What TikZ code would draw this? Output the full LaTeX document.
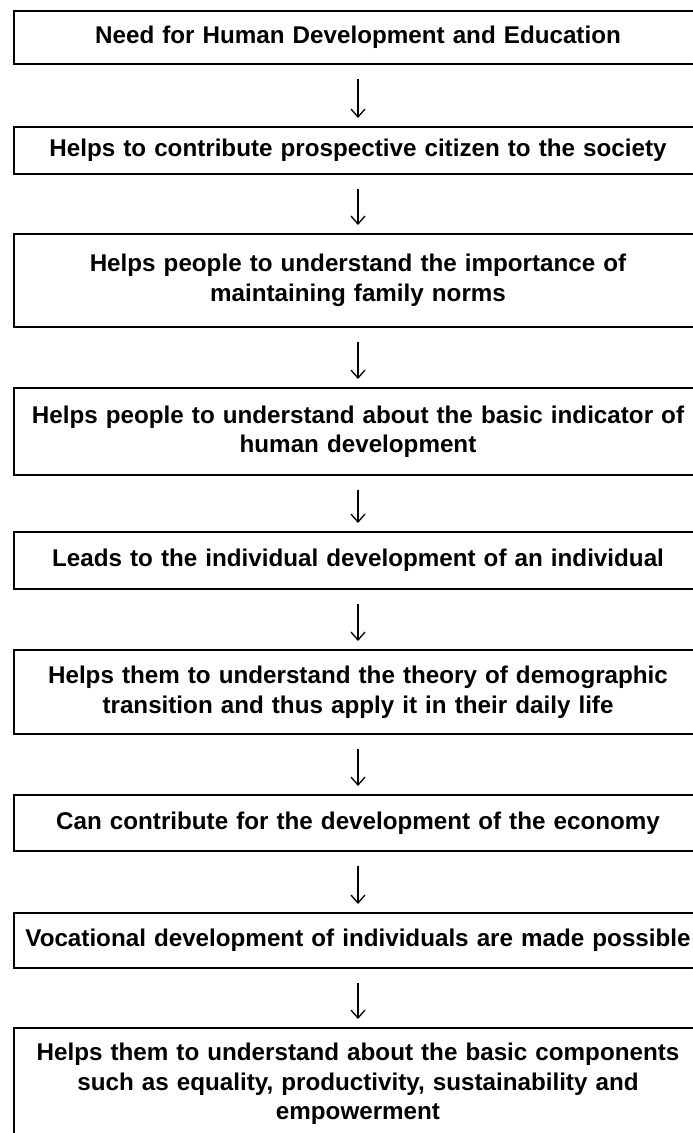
\documentclass[tikz,border=0pt]{standalone}
\usepackage{fontspec}
\setmainfont{Liberation Sans}
\usetikzlibrary{arrows.meta}
\tikzset{
  flowbox/.style={draw=black, line width=1.7pt, rectangle, minimum width=688pt,
    inner sep=0pt, outer sep=0pt, text width=670pt, align=center,
    font=\fontsize{24.2}{29.5}\selectfont\bfseries},
  flowarrow/.style={line width=1.3pt, -{Straight Barb[length=8pt,width=14pt]},
    shorten <=15pt, shorten >=9pt}
}
\begin{document}
\begin{tikzpicture}[x=1pt,y=-1pt]
\useasboundingbox (0,0) rectangle (693,1133);
\node[flowbox, minimum height=53pt] (b1) at (358,37.5) {Need for Human Development and Education};
\node[flowbox, minimum height=47pt] (b2) at (358,150.5) {Helps to contribute prospective citizen to the society};
\node[flowbox, minimum height=93pt] (b3) at (358,280.5) {Helps people to understand the importance of\\maintaining family norms};
\node[flowbox, minimum height=87pt] (b4) at (358,431.5) {Helps people to understand about the basic indicator of\\human development};
\node[flowbox, minimum height=57pt] (b5) at (358,560.5) {Leads to the individual development of an individual};
\node[flowbox, minimum height=84pt] (b6) at (358,692) {Helps them to understand the theory of demographic\\transition and thus apply it in their daily life};
\node[flowbox, minimum height=56pt] (b7) at (358,823) {Can contribute for the development of the economy};
\node[flowbox, minimum height=55pt] (b8) at (358,940.5) {Vocational development of individuals are made possible};
\node[flowbox, minimum height=112pt] (b9) at (358,1084) {Helps them to understand about the basic components\\such as equality, productivity, sustainability and\\empowerment};
\foreach \a/\b in {b1/b2,b2/b3,b3/b4,b4/b5,b5/b6,b6/b7,b7/b8,b8/b9}
  \draw[flowarrow] (\a.south) -- (\b.north);
\end{tikzpicture}
\end{document}
